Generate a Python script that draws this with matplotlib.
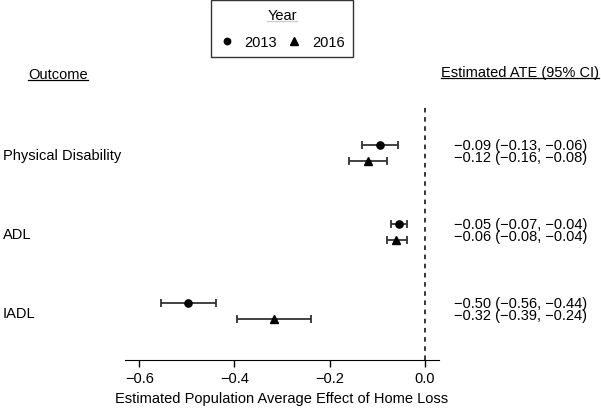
import numpy as np
import matplotlib
matplotlib.use('Agg')
from matplotlib import pyplot as plt
from matplotlib.lines import Line2D

plt.rcParams['font.family'] = ['Liberation Sans', 'DejaVu Sans']
plt.rcParams['font.size'] = 10.5

#### data
outcomes = ['Physical Disability', 'ADL', 'IADL']
years = ['2013', '2016']
est_2013 = [-0.093, -0.055, -0.498]
lo_2013 = [-0.132, -0.070, -0.555]
hi_2013 = [-0.057, -0.038, -0.439]
est_2016 = [-0.120, -0.061, -0.317]
lo_2016 = [-0.160, -0.080, -0.395]
hi_2016 = [-0.080, -0.038, -0.239]
ate_2013 = ['\u22120.09 (\u22120.13, \u22120.06)', '\u22120.05 (\u22120.07, \u22120.04)', '\u22120.50 (\u22120.56, \u22120.44)']
ate_2016 = ['\u22120.12 (\u22120.16, \u22120.08)', '\u22120.06 (\u22120.08, \u22120.04)', '\u22120.32 (\u22120.39, \u22120.24)']
xticks = [-0.6, -0.4, -0.2, 0.0]

W, H = 601, 410
fig = plt.figure(figsize=(W/100, H/100), dpi=100)
ax = fig.add_axes([125/W, 1-361/H, (439-125)/W, (361-107)/H])

g = np.arange(len(outcomes))
off = 0.105
for est, lo, hi, y, mk, ms in [(est_2013, lo_2013, hi_2013, g-off, 'o', 5.2),
                               (est_2016, lo_2016, hi_2016, g+off, '^', 5.8)]:
    est = np.array(est)
    err = [est-np.array(lo), np.array(hi)-est]
    ax.errorbar(est, y, xerr=err, fmt=mk, color='black', ecolor='#333333',
                elinewidth=1.3, capsize=2.6, capthick=1.3, markersize=ms)

ax.axvline(0, color='black', lw=1.1, ls=(0, (3, 3)))
ax.set_xlim(-0.63, 0.03)
ax.set_ylim(2.62, -0.595)
ax.set_xticks(xticks)
ax.set_xticklabels(['\u22120.6', '\u22120.4', '\u22120.2', '0.0'])
ax.tick_params(axis='x', length=5, pad=3, width=1)
ax.set_yticks([])
for s in ['top', 'right', 'left']:
    ax.spines[s].set_visible(False)
ax.set_xlabel('Estimated Population Average Effect of Home Loss', labelpad=4)

# labels on the left and estimates on the right
tr_l = matplotlib.transforms.blended_transform_factory(fig.transFigure, ax.transData)
for i, name in enumerate(outcomes):
    fig.text(3/W, i+0.03, name, transform=tr_l, va='center', ha='left')
    fig.text(521/W, i-0.03, ate_2013[i] + '\n' + ate_2016[i], transform=tr_l,
             va='center', ha='center', linespacing=0.8)

hdr1 = fig.text(28/W, 1-75/H, 'Outcome', va='center', ha='left')
hdr2 = fig.text(520/W, 1-73/H, 'Estimated ATE (95% CI)', va='center', ha='center')

handles = [Line2D([], [], marker='o', color='black', ls='none', markersize=4.6),
           Line2D([], [], marker='^', color='black', ls='none', markersize=5.2)]
leg = fig.legend(handles, years, ncol=2, loc='upper center', title='Year',
                 bbox_to_anchor=(282/W, 1-1/H), frameon=True, fancybox=False,
                 edgecolor='black', handlelength=1, handletextpad=0.7,
                 columnspacing=0.7, borderpad=0.55, borderaxespad=0,
                 labelspacing=0.88)
leg.get_frame().set_linewidth(1)

# underline headers
fig.canvas.draw()
r = fig.canvas.get_renderer()
for t in [hdr1, hdr2, leg.get_title()]:
    bb = t.get_window_extent(r)
    yl = (bb.y0 + 1)/H
    fig.add_artist(Line2D([bb.x0/W, bb.x1/W], [yl, yl], color='black', lw=0.9,
                          transform=fig.transFigure))

fig.savefig('out.png', dpi=100)
